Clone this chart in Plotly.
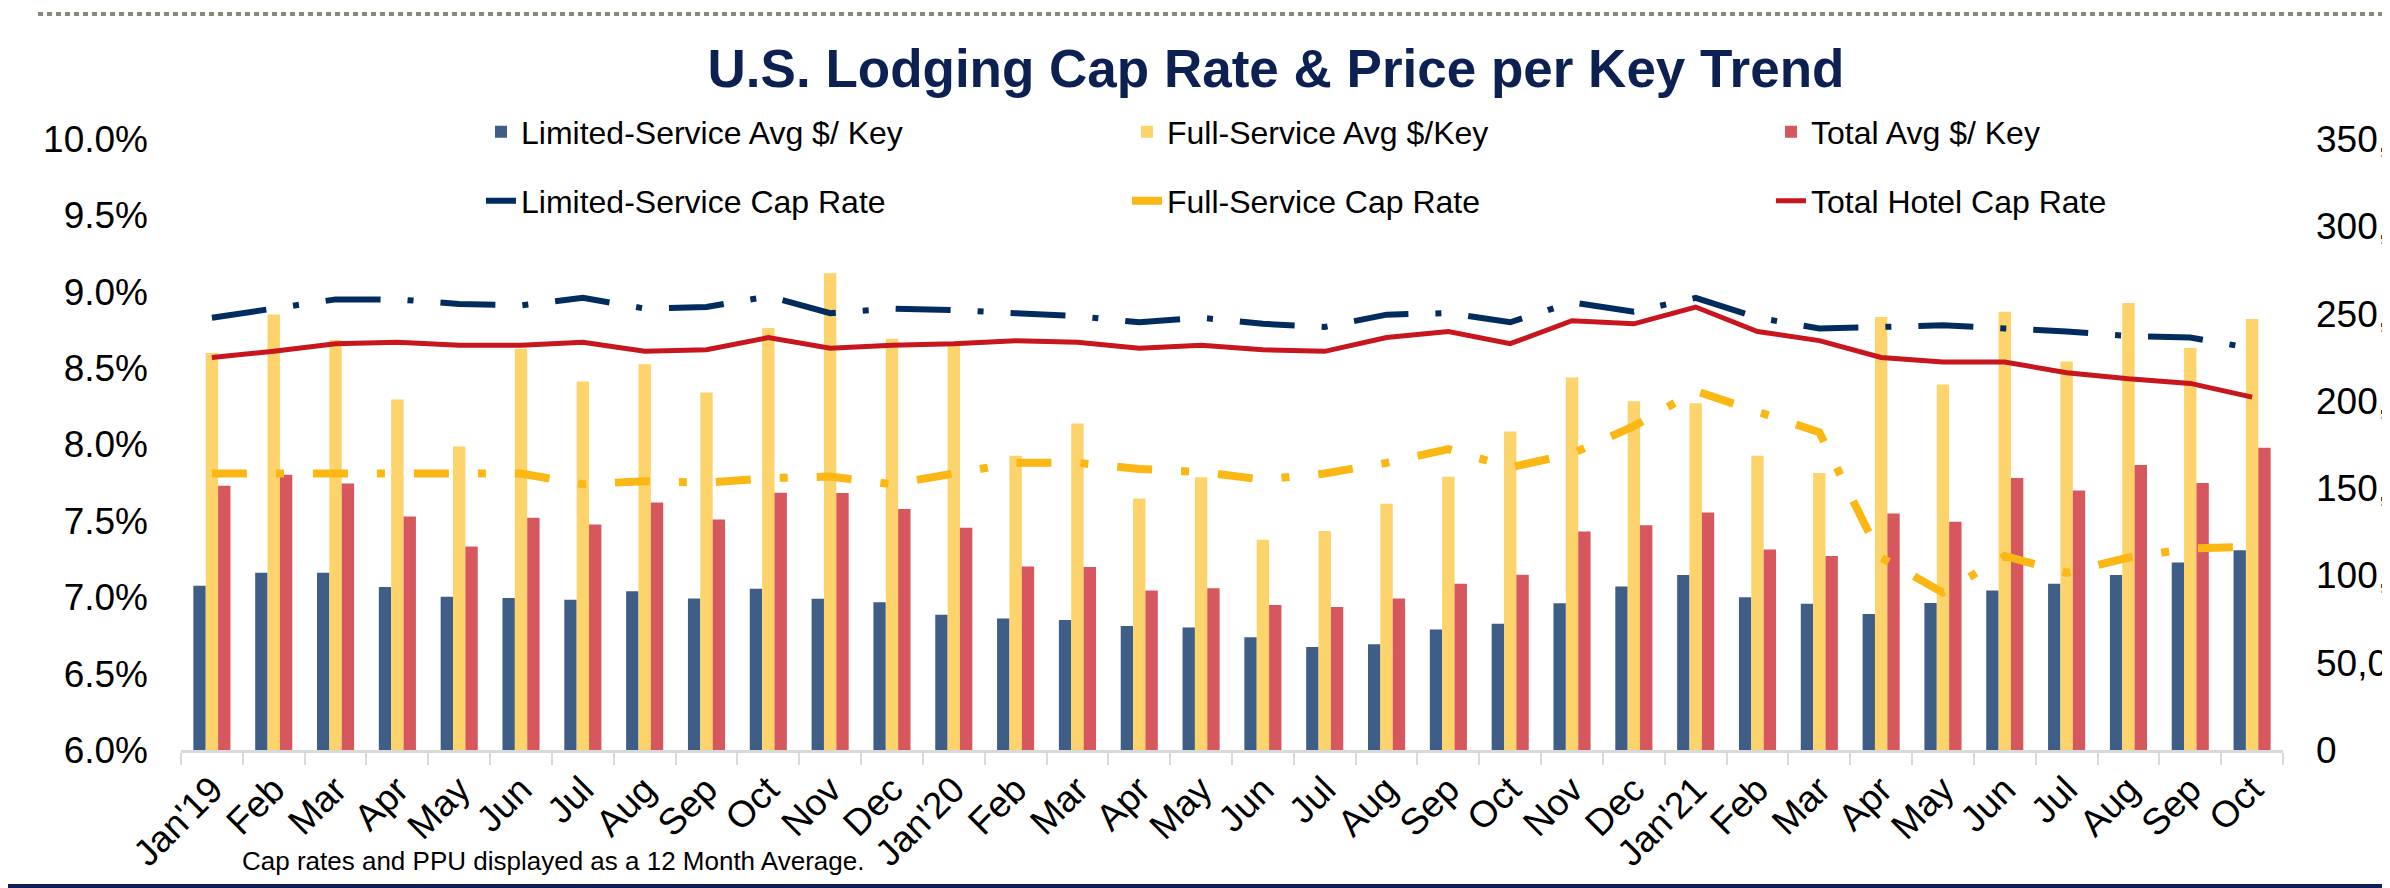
import plotly.graph_objects as go

# category keys (unique) and the labels shown on the axis
periods = ["2019-01", "2019-02", "2019-03", "2019-04", "2019-05", "2019-06",
           "2019-07", "2019-08", "2019-09", "2019-10", "2019-11", "2019-12",
           "2020-01", "2020-02", "2020-03", "2020-04", "2020-05", "2020-06",
           "2020-07", "2020-08", "2020-09", "2020-10", "2020-11", "2020-12",
           "2021-01", "2021-02", "2021-03", "2021-04", "2021-05", "2021-06",
           "2021-07", "2021-08", "2021-09", "2021-10"]
month_labels = ["Jan'19", "Feb", "Mar", "Apr", "May", "Jun", "Jul", "Aug", "Sep", "Oct", "Nov", "Dec",
                "Jan'20", "Feb", "Mar", "Apr", "May", "Jun", "Jul", "Aug", "Sep", "Oct", "Nov", "Dec",
                "Jan'21", "Feb", "Mar", "Apr", "May", "Jun", "Jul", "Aug", "Sep", "Oct"]

# price per key ($)
limited_key = [94100, 101600, 101600, 93400, 87800, 87000, 86100, 91000, 86800, 92400, 86600, 84700,
               77500, 75300, 74400, 71100, 70200, 64600, 59000, 60600, 69000, 72300, 84000, 93600,
               100200, 87500, 83800, 77900, 84200, 91300, 95200, 100200, 107400, 114400]
full_key = [227400, 249400, 234900, 200800, 173900, 229800, 211100, 220900, 204800, 241700, 273100, 235600,
            232100, 168500, 187000, 144100, 156300, 120500, 125400, 141100, 156500, 182500, 213400, 199800,
            198700, 168500, 158700, 248000, 209400, 251100, 222500, 256000, 230300, 246900]
total_key = [151400, 157700, 152600, 133800, 116500, 133100, 129200, 141800, 132000, 147400, 147200, 138100,
             127300, 105100, 104800, 91300, 92700, 83100, 81900, 86800, 95200, 100400, 125200, 128700,
             136000, 114900, 111200, 135500, 130800, 155800, 148600, 163300, 153000, 173200]

# cap rates (%)
limited_cap = [8.83, 8.89, 8.95, 8.95, 8.92, 8.91, 8.96, 8.89, 8.90, 8.97, 8.86, 8.89,
               8.88, 8.86, 8.84, 8.80, 8.83, 8.79, 8.77, 8.85, 8.86, 8.80, 8.93, 8.87,
               8.96, 8.83, 8.76, 8.77, 8.78, 8.76, 8.74, 8.71, 8.70, 8.63]
full_cap = [7.81, 7.81, 7.81, 7.81, 7.81, 7.81, 7.74, 7.76, 7.75, 7.78, 7.79, 7.74,
            7.81, 7.88, 7.88, 7.84, 7.82, 7.77, 7.81, 7.88, 7.97, 7.85, 7.94, 8.12,
            8.35, 8.22, 8.08, 7.26, 7.03, 7.27, 7.16, 7.26, 7.32, 7.33]
total_cap = [8.57, 8.61, 8.66, 8.67, 8.65, 8.65, 8.67, 8.61, 8.62, 8.70, 8.63, 8.65,
             8.66, 8.68, 8.67, 8.63, 8.65, 8.62, 8.61, 8.70, 8.74, 8.66, 8.81, 8.79,
             8.90, 8.74, 8.68, 8.57, 8.54, 8.54, 8.47, 8.43, 8.40, 8.31]

FONT = "Liberation Sans, Arial, sans-serif"
W, H = 2390, 888
L, R, T, B = 173, 115, 131, 146
PW, PH = W - L - R, H - T - B


def px_x(x):
    return (x - L) / PW


def px_y(y):
    return (H - B - y) / PH


fig = go.Figure()

fig.add_bar(x=periods, y=limited_key, name="Limited-Service Avg $/ Key",
            marker=dict(color="#3E5D87", line=dict(width=0)), legend="legend")
fig.add_bar(x=periods, y=full_key, name="Full-Service Avg $/Key",
            marker=dict(color="#FDD36B", line=dict(width=0)), legend="legend2")
fig.add_bar(x=periods, y=total_key, name="Total Avg $/ Key",
            marker=dict(color="#D6585E", line=dict(width=0)), legend="legend3")

fig.add_scatter(x=periods, y=limited_cap, name="Limited-Service Cap Rate", mode="lines", yaxis="y2",
                line=dict(color="#022B5E", width=6, dash="55px,27px,6px,27px"), legend="legend4")
fig.add_scatter(x=periods, y=full_cap, name="Full-Service Cap Rate", mode="lines", yaxis="y2",
                line=dict(color="#FBB714", width=8, dash="35px,29px,8px,29px"), legend="legend5")
fig.add_scatter(x=periods, y=total_cap, name="Total Hotel Cap Rate", mode="lines", yaxis="y2",
                line=dict(color="#C8161E", width=5), legend="legend6")


def legend_at(x, y):
    return dict(x=px_x(x), y=px_y(y), xanchor="left", yanchor="middle",
                font=dict(size=32, family=FONT, color="black"),
                bgcolor="rgba(0,0,0,0)", borderwidth=0)


# legend grid: 3 columns x 2 rows (pixel positions)
col_x = [473, 1119, 1763]
row_y = [124, 193]

fig.update_layout(
    width=W, height=H,
    margin=dict(l=L, r=R, t=T, b=B, autoexpand=False),
    paper_bgcolor="white", plot_bgcolor="white",
    font=dict(family=FONT, color="black"),
    barmode="group", bargap=0.4, bargroupgap=0,
    title=dict(text="U.S. Lodging Cap Rate & Price per Key Trend",
               x=1268 / W, xref="container", xanchor="center",
               y=1 - 60 / H, yref="container", yanchor="middle",
               font=dict(size=53, color="#0C2152", family=FONT, weight="bold")),
    xaxis=dict(type="category", tickvals=periods, ticktext=month_labels, tickangle=-45,
               tickson="boundaries", ticks="outside", ticklen=12, tickwidth=2, tickcolor="#D9D9D9",
               showline=True, linecolor="#D9D9D9", linewidth=3, showgrid=False, automargin=False,
               tickfont=dict(size=37, color="black")),
    yaxis=dict(side="right", range=[0, 350000], dtick=50000, tickformat=",d",
               showgrid=False, zeroline=False, showline=False, ticks="", automargin=False,
               ticklabelstandoff=32, tickfont=dict(size=37, color="black")),
    yaxis2=dict(overlaying="y", side="left", range=[6, 10], dtick=0.5, tickformat=".1f",
                ticksuffix="%", showgrid=False, zeroline=False, showline=False, ticks="",
                automargin=False, ticklabelstandoff=32, tickfont=dict(size=37, color="black")),
    legend=legend_at(col_x[0], row_y[0]),
    legend2=legend_at(col_x[1], row_y[0]),
    legend3=legend_at(col_x[2], row_y[0]),
    legend4=legend_at(col_x[0], row_y[1]),
    legend5=legend_at(col_x[1], row_y[1]),
    legend6=legend_at(col_x[2], row_y[1]),
    showlegend=True,
)

# dotted rule at the top and navy band at the bottom
fig.add_shape(type="line", xref="paper", yref="paper",
              x0=px_x(30), x1=px_x(W), y0=px_y(6), y1=px_y(6),
              line=dict(color="#8A877D", width=4, dash="5px,4px"))
fig.add_shape(type="rect", xref="paper", yref="paper",
              x0=px_x(0), x1=px_x(W), y0=px_y(H), y1=px_y(876),
              line=dict(width=0), fillcolor="#0C1F5C")

fig.add_annotation(text="Cap rates and PPU displayed as a 12 Month Average.",
                   xref="paper", yref="paper", x=px_x(232), y=px_y(853),
                   xanchor="left", yanchor="middle", showarrow=False,
                   font=dict(size=26, family=FONT, color="black"))

fig.write_html("out.html")
